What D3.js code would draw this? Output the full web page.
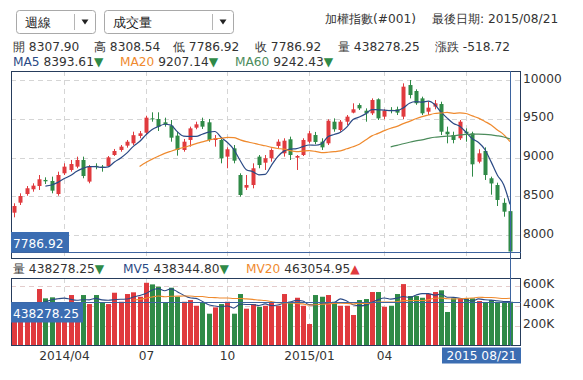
<!DOCTYPE html>
<html><head><meta charset="utf-8">
<script src="https://cdn.jsdelivr.net/npm/d3@7/dist/d3.min.js"></script>
<style>
body{margin:0;background:#fff}
svg{display:block}
text{font-family:"DejaVu Sans",Verdana,sans-serif}
</style>
</head><body><svg id="c" width="583" height="380"></svg>
<script>
// ---- data (weekly TAIEX) ----
const dates = [
"2014/02/07","2014/02/14","2014/02/21","2014/02/28","2014/03/07","2014/03/14","2014/03/21","2014/03/28",
"2014/04/03","2014/04/11","2014/04/18","2014/04/25","2014/05/02","2014/05/09","2014/05/16","2014/05/23","2014/05/30",
"2014/06/06","2014/06/13","2014/06/20","2014/06/27","2014/07/04","2014/07/11","2014/07/18","2014/07/25",
"2014/08/01","2014/08/08","2014/08/15","2014/08/22","2014/08/29","2014/09/05","2014/09/12","2014/09/19","2014/09/26",
"2014/10/03","2014/10/09","2014/10/17","2014/10/24","2014/10/31","2014/11/07","2014/11/14","2014/11/21","2014/11/28",
"2014/12/05","2014/12/12","2014/12/19","2014/12/26","2015/01/02","2015/01/09","2015/01/16","2015/01/23","2015/01/30",
"2015/02/06","2015/02/13","2015/02/27","2015/03/06","2015/03/13","2015/03/20","2015/03/27",
"2015/04/02","2015/04/10","2015/04/17","2015/04/24","2015/05/01","2015/05/08","2015/05/15","2015/05/22","2015/05/29",
"2015/06/05","2015/06/12","2015/06/19","2015/06/26","2015/07/03","2015/07/10","2015/07/17","2015/07/24","2015/07/31",
"2015/08/07","2015/08/14","2015/08/21"];
const open  = [8288,8417,8529,8590,8632,8710,8697,8529,8796,8839,8882,8968,8689,8892,8882,8890,9032,9097,9153,9183,
9278,9320,9505,9497,9454,9411,9282,9097,9226,9385,9471,9454,9226,9226,9011,9118,8774,8611,8645,9011,
8933,8990,9149,9054,9235,8998,9032,9204,9290,9204,9183,9462,9355,9462,9579,9677,9604,9570,9751,9527,
9615,9622,9527,9935,9858,9763,9591,9656,9690,9333,9290,9248,9333,9312,8946,9084,8732,8645,8415,8307.90];
const high  = [8409,8538,8632,8667,8774,8744,8753,8817,8925,8968,9011,9011,8903,8925,8903,9019,9110,9161,9226,9333,
9342,9539,9583,9583,9514,9484,9333,9239,9398,9462,9514,9497,9290,9248,9131,9161,8796,8774,8925,9032,
9032,9118,9235,9248,9269,9032,9248,9346,9330,9248,9493,9505,9484,9548,9699,9699,9634,9763,9763,9622,
9650,9656,9957,10000,9880,9785,9720,9742,9720,9398,9333,9484,9376,9333,9106,9131,8753,8675,8473,8308.54];
const low   = [8228,8387,8507,8559,8581,8658,8538,8507,8774,8817,8861,8732,8667,8848,8817,8882,9020,9075,9127,9161,
9248,9300,9462,9342,9398,9204,9024,9075,9140,9364,9368,9204,9140,8925,8861,8925,8495,8581,8602,8861,
8839,8946,9118,9011,8968,8839,9019,9183,9170,9097,9161,9333,9333,9419,9570,9613,9462,9548,9484,9493,
9570,9548,9493,9763,9680,9548,9548,9622,9290,9183,9183,9226,9204,8753,8925,8710,8520,8374,8236,7786.92];
const close = [8374,8503,8603,8637,8719,8693,8572,8774,8882,8916,8968,8761,8882,8880,8868,9002,9084,9140,9204,9288,
9312,9514,9493,9398,9428,9256,9097,9204,9376,9428,9398,9226,9248,8990,9106,8959,8516,8645,8861,8903,
8990,9097,9204,9217,9032,9019,9226,9312,9200,9131,9475,9364,9462,9527,9622,9634,9570,9742,9505,9604,
9600,9579,9914,9806,9700,9570,9643,9699,9333,9299,9226,9462,9312,8912,9054,8774,8665,8452,8301,7786.92];
const volume = [380000,380000,370000,400000,565000,472000,482000,420000,430000,505000,430000,505000,415000,505000,428000,415000,528000,438000,515000,532000,
488000,627000,611000,588000,428000,578000,488000,438000,455000,398000,428000,319000,382000,415000,438000,319000,515000,369000,415000,388000,
398000,428000,398000,515000,438000,478000,398000,216000,505000,488000,505000,438000,398000,398000,306000,455000,465000,535000,535000,388000,
398000,515000,614000,495000,495000,478000,515000,535000,552000,336000,472000,472000,472000,472000,445000,428000,455000,438000,438000,438278.25];
const priceTicks = [8000,8500,9000,9500,10000];
const volTicks = [200000,400000,600000];
const volTickLabels = ["200K","400K","600K"];
const monthTickDates = ["2014/04/03","2014/07/04","2014/10/03","2015/01/02","2015/04/02","2015/07/03"];
const monthTickLabels = ["2014/04","07","10","2015/01","04",""];
const maPeriods = [5,20,60];
const maLastVals = [8393.61,9207.14,9242.43];
const mvPeriods = [5,20];
const mvLastVals = [438344.80,463054.95];
const lastChange = "-518.72";

// ---- drawing ----
const svg = d3.select("#c");
const FS = 12.2;
const RED="#e03a3e", GREEN="#2f8a47", NAVY="#2b4a85", ORANGE="#ef8a2e", MGREEN="#4c8c5c", FRAME="#263c5c", BOXBLUE="#3b6db2";
const fL=11, fR=521, mT=71, mB=259, vT=278, vB=346;

const x = d3.scaleBand().domain(dates).range([10.9, 513.1]).paddingInner(0.3).paddingOuter(0.15);
const cx = d => x(d) + x.bandwidth()/2;
const y = d3.scaleLinear().domain([8000,10000]).range([235,80]);
const yv = d3.scaleLinear().domain([0,600000]).range([345.7,285.5]);

const defs = svg.append("defs");
defs.append("clipPath").attr("id","cm").append("rect").attr("x",fL).attr("y",mT).attr("width",fR-fL).attr("height",mB-mT);
defs.append("clipPath").attr("id","cv").append("rect").attr("x",fL).attr("y",vT).attr("width",fR-fL).attr("height",vB-vT);

// header dropdowns
function dropdown(x0,w,sep,label){
  const g = svg.append("g");
  g.append("rect").attr("x",x0+0.5).attr("y",10.5).attr("width",w).attr("height",23).attr("rx",3)
    .attr("fill","#fff").attr("stroke","#a9a9a9");
  g.append("line").attr("x1",sep+0.5).attr("x2",sep+0.5).attr("y1",14).attr("y2",30).attr("stroke","#b5b5b5");
  g.append("text").attr("x",x0+9).attr("y",27).attr("font-size",13).attr("fill","#222").text(label);
  const ax = sep+11;
  g.append("path").attr("d",`M${ax-3.5},19.5 L${ax+3.5},19.5 L${ax},24.5 Z`).attr("fill","#222");
}
dropdown(16,79,74,"週線");
dropdown(104,129,212,"成交量");

svg.append("text").attr("x",325).attr("y",22.5).attr("font-size",FS).attr("fill","#333").text("加權指數(#001)");
svg.append("text").attr("x",432).attr("y",22.5).attr("font-size",FS).attr("fill","#333").text("最後日期: 2015/08/21");

const last = dates.length-1;
const fmt2 = d3.format(".2f");
const row2 = [["開",fmt2(open[last])],["高",fmt2(high[last])],["低",fmt2(low[last])],["收",fmt2(close[last])],["量",fmt2(volume[last])],["漲跌",lastChange]];
const row2x = [13,94,173,255,338,435];
row2.forEach((r,i)=>{
  svg.append("text").attr("x",row2x[i]).attr("y",51).attr("font-size",FS).attr("fill","#333").text(r[0]+" "+r[1]);
});

function ma(arr,n){ return arr.map((v,i)=> i<n ? null : d3.mean(arr.slice(i-n+1,i+1))); }
const maSeries = maPeriods.map(n=>ma(close,n));
const maColors = [NAVY,ORANGE,MGREEN];
const maX = [13,120,235];
maPeriods.forEach((n,k)=>{
  const t = svg.append("text").attr("x",maX[k]).attr("y",66).attr("font-size",FS);
  t.append("tspan").attr("fill",maColors[k]).text("MA"+n);
  t.append("tspan").attr("fill","#333").text(" "+fmt2(maLastVals[k]));
  t.append("tspan").attr("fill",GREEN).text("▼");
});

// main grid
const gm = svg.append("g");
priceTicks.forEach(p=>{
  gm.append("line").attr("x1",fL).attr("x2",fR).attr("y1",Math.round(y(p))+0.5).attr("y2",Math.round(y(p))+0.5)
    .attr("stroke","#d5d5d5").attr("stroke-dasharray","5,4");
  svg.append("text").attr("x",523).attr("y",y(p)+2.5).attr("font-size",FS).attr("fill","#333").text(p);
});
monthTickDates.forEach((d,i)=>{
  const xx = Math.round(cx(d))+0.5;
  gm.append("line").attr("x1",xx).attr("x2",xx).attr("y1",mT).attr("y2",mB).attr("stroke","#d5d5d5").attr("stroke-dasharray","5,4");
  gm.append("line").attr("x1",xx).attr("x2",xx).attr("y1",vT).attr("y2",vB).attr("stroke","#d5d5d5").attr("stroke-dasharray","5,4");
  if(monthTickLabels[i]) svg.append("text").attr("x",xx).attr("y",360).attr("text-anchor","middle").attr("font-size",FS).attr("fill","#333").text(monthTickLabels[i]);
});

// candles
const cg = svg.append("g").attr("clip-path","url(#cm)");
const bw = 4;
dates.forEach((d,i)=>{
  const up = close[i] >= open[i];
  const col = up ? RED : GREEN;
  const xc = Math.round(cx(d));
  cg.append("line").attr("x1",xc+0.5).attr("x2",xc+0.5).attr("y1",y(high[i])).attr("y2",y(low[i])).attr("stroke",col);
  const top = y(Math.max(open[i],close[i])), bot = y(Math.min(open[i],close[i]));
  cg.append("rect").attr("x",xc-1.5).attr("y",top).attr("width",bw).attr("height",Math.max(1,bot-top)).attr("fill",col);
});
maSeries.forEach((s,k)=>{
  const line = d3.line().defined(v=>v!==null).x((v,i)=>cx(dates[i])).y(v=>y(v)).curve(d3.curveMonotoneX);
  cg.append("path").attr("d",line(s)).attr("fill","none").attr("stroke",maColors[k]).attr("stroke-width",1.2);
});

// volume grid
volTicks.forEach((v,i)=>{
  svg.append("line").attr("x1",fL).attr("x2",fR).attr("y1",Math.round(yv(v))+0.5).attr("y2",Math.round(yv(v))+0.5)
    .attr("stroke","#e3cccc").attr("stroke-dasharray","5,4");
  svg.append("text").attr("x",523).attr("y",yv(v)+2.5).attr("font-size",FS).attr("fill","#333").text(volTickLabels[i]);
});
const vg = svg.append("g").attr("clip-path","url(#cv)");
dates.forEach((d,i)=>{
  const up = close[i] >= open[i];
  vg.append("rect").attr("x",Math.round(cx(d))-2).attr("y",yv(volume[i])).attr("width",5)
    .attr("height",yv(0)-yv(volume[i])).attr("fill",up?RED:GREEN);
});
const mvSeries = mvPeriods.map(n=>volume.map((v,i)=> i<n-1 ? null : d3.mean(volume.slice(i-n+1,i+1))));
[NAVY,ORANGE].forEach((c,k)=>{
  const line = d3.line().defined(v=>v!==null).x((v,i)=>cx(dates[i])).y(v=>yv(v)).curve(d3.curveMonotoneX);
  vg.append("path").attr("d",line(mvSeries[k])).attr("fill","none").attr("stroke",c).attr("stroke-width",1.1);
});

// volume header
{
  let t = svg.append("text").attr("x",13).attr("y",273).attr("font-size",FS);
  t.append("tspan").attr("fill","#333").text("量 "+fmt2(volume[last]));
  t.append("tspan").attr("fill",GREEN).text("▼");
  t = svg.append("text").attr("x",123).attr("y",273).attr("font-size",FS);
  t.append("tspan").attr("fill",NAVY).text("MV5");
  t.append("tspan").attr("fill","#333").text(" "+fmt2(mvLastVals[0]));
  t.append("tspan").attr("fill",GREEN).text("▼");
  t = svg.append("text").attr("x",246).attr("y",273).attr("font-size",FS);
  t.append("tspan").attr("fill",ORANGE).text("MV20");
  t.append("tspan").attr("fill","#333").text(" "+fmt2(mvLastVals[1]));
  t.append("tspan").attr("fill",RED).text("▲");
}

// frames
svg.append("rect").attr("x",fL+0.5).attr("y",mT+0.5).attr("width",fR-fL-1).attr("height",mB-mT-1).attr("fill","none").attr("stroke",FRAME);
svg.append("rect").attr("x",fL+0.5).attr("y",vT+0.5).attr("width",fR-fL-1).attr("height",vB-vT-1).attr("fill","none").attr("stroke",FRAME);

// crosshair
const xl = Math.round(cx(dates[last]))+0.5;
svg.append("line").attr("x1",xl).attr("x2",xl).attr("y1",mT).attr("y2",vB).attr("stroke","#3d64a0");
const yl = Math.round(y(close[last]))+0.5;
svg.append("line").attr("x1",fL).attr("x2",fR).attr("y1",yl).attr("y2",yl).attr("stroke","#3d64a0");
const yvl = Math.round(yv(volume[last]))+0.5;
svg.append("line").attr("x1",fL).attr("x2",fR).attr("y1",yvl).attr("y2",yvl).attr("stroke","#3d64a0");

// value boxes
svg.append("rect").attr("x",fL).attr("y",yl-20.5).attr("width",58).attr("height",20).attr("fill",BOXBLUE);
svg.append("text").attr("x",fL+2).attr("y",yl-5).attr("font-size",FS).attr("fill","#fff").text(fmt2(close[last]));
svg.append("rect").attr("x",fL).attr("y",yvl).attr("width",72).attr("height",20).attr("fill",BOXBLUE);
svg.append("text").attr("x",fL+2).attr("y",yvl+15).attr("font-size",FS).attr("fill","#fff").text(fmt2(volume[last]));
svg.append("rect").attr("x",442).attr("y",347.5).attr("width",79).attr("height",16).attr("fill",BOXBLUE);
svg.append("text").attr("x",481.5).attr("y",360).attr("text-anchor","middle").attr("font-size",FS).attr("fill","#fff").text("2015 08/21");
</script>
</body></html>
